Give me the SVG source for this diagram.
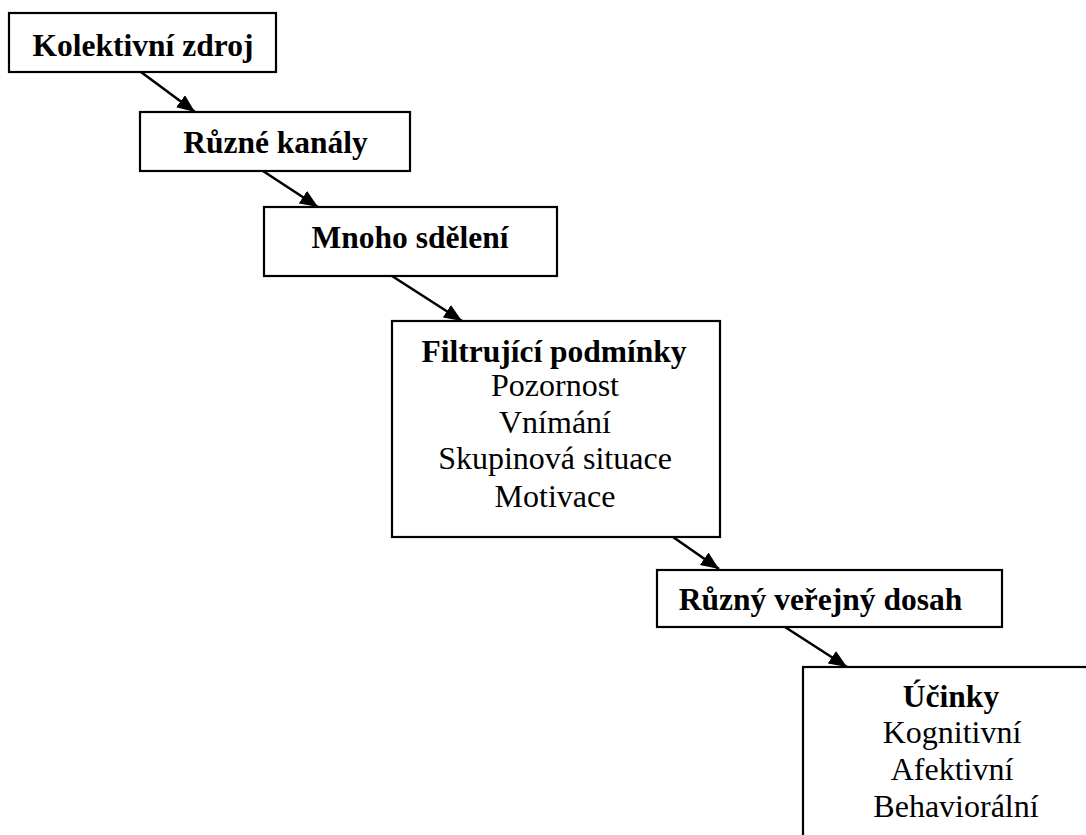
<svg xmlns="http://www.w3.org/2000/svg" width="1086" height="835" viewBox="0 0 1086 835">
<style>
.box{fill:#fff;stroke:#000;stroke-width:2.2}
.t{font-family:"Liberation Serif","Times New Roman",serif;font-size:32px;fill:#000;text-anchor:middle}
.b{font-weight:bold;font-size:31.5px}
.conn line{stroke:#000;stroke-width:2.6}
</style>
<defs>
<marker id="ah" markerUnits="userSpaceOnUse" markerWidth="20" markerHeight="16" refX="18" refY="7.5" orient="auto">
<path d="M0,0 L18,7.5 L0,15 z" fill="#000"/>
</marker>
</defs>
<rect width="1086" height="835" fill="#fff"/>
<g id="connectors" class="conn">
<line x1="141" y1="72" x2="195" y2="112" marker-end="url(#ah)"/>
<line x1="263" y1="171" x2="318" y2="207" marker-end="url(#ah)"/>
<line x1="392" y1="276" x2="462" y2="321" marker-end="url(#ah)"/>
<line x1="673" y1="537" x2="719" y2="569" marker-end="url(#ah)"/>
<line x1="785" y1="627" x2="847" y2="667" marker-end="url(#ah)"/>
</g>
<g id="n1"><rect class="box" x="9" y="13" width="267" height="59"/><text class="t b" x="143" y="56">Kolektivní zdroj</text></g>
<g id="n2"><rect class="box" x="140" y="112" width="270" height="59"/><text class="t b" x="275.5" y="153">Různé kanály</text></g>
<g id="n3"><rect class="box" x="264" y="207" width="293" height="69"/><text class="t b" x="410" y="248">Mnoho sdělení</text></g>
<g id="n4"><rect class="box" x="392" y="321" width="328" height="216"/>
<text class="t b" x="554" y="361.5">Filtrující podmínky</text>
<text class="t" x="555" y="396">Pozornost</text>
<text class="t" x="555" y="432.5">Vnímání</text>
<text class="t" x="555" y="469">Skupinová situace</text>
<text class="t" x="555" y="506.5">Motivace</text></g>
<g id="n5"><rect class="box" x="657" y="570" width="345" height="57"/><text class="t b" x="820.5" y="610">Různý veřejný dosah</text></g>
<g id="n6"><rect class="box" x="803" y="667" width="300" height="200"/>
<text class="t b" x="951" y="706.5">Účinky</text>
<text class="t" x="952" y="742.5">Kognitivní</text>
<text class="t" x="952" y="780">Afektivní</text>
<text class="t" x="956" y="816.5">Behaviorální</text></g>
</svg>
